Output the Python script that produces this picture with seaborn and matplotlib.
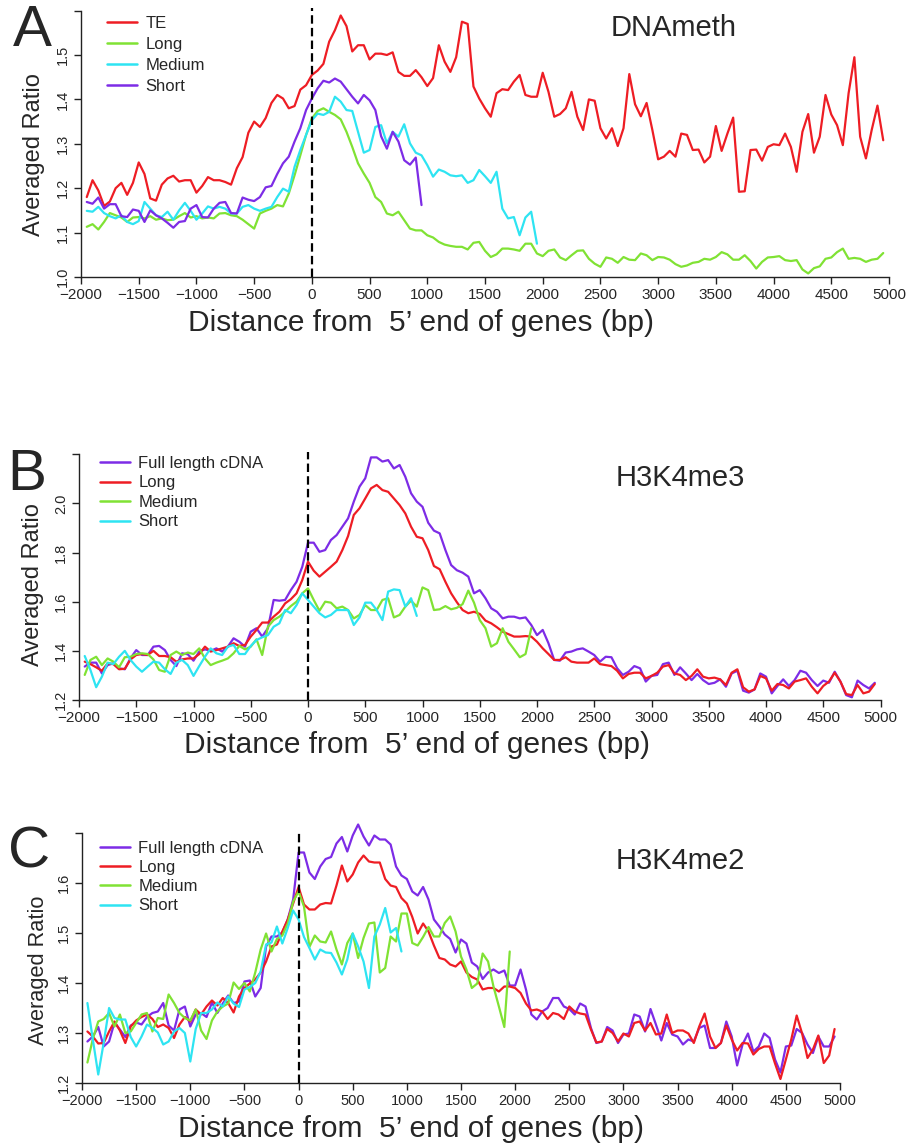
import numpy as np
import pandas as pd
import seaborn as sns
import matplotlib
matplotlib.use('Agg')
from matplotlib import pyplot as plt
from matplotlib.lines import Line2D

# positions (bp) of the averaged windows
pos_full = list(range(-1950, 5000, 50))
pos_2k = list(range(-1950, 2000, 50))
pos_1k = list(range(-1950, 1000, 50))

# ---- panel A: DNAmeth ----
a_te = [1.18, 1.218, 1.195, 1.16, 1.17, 1.20, 1.212, 1.185, 1.212, 1.258,
        1.232, 1.177, 1.172, 1.208, 1.222, 1.228, 1.215, 1.218, 1.218, 1.19,
        1.205, 1.225, 1.218, 1.218, 1.214, 1.208, 1.245, 1.27, 1.325, 1.35,
        1.338, 1.358, 1.392, 1.41, 1.402, 1.38, 1.385, 1.422, 1.432, 1.455,
        1.465, 1.48, 1.53, 1.556, 1.589, 1.565, 1.508, 1.522, 1.522, 1.49,
        1.503, 1.503, 1.5, 1.506, 1.462, 1.453, 1.453, 1.466, 1.45, 1.43,
        1.448, 1.522, 1.485, 1.462, 1.495,
        1.575, 1.570, 1.429, 1.402, 1.380, 1.361, 1.414, 1.423, 1.421, 1.44,
        1.455, 1.41, 1.406, 1.406, 1.46, 1.417, 1.361, 1.367, 1.38, 1.417,
        1.361, 1.331, 1.40, 1.397, 1.335, 1.312, 1.335, 1.295, 1.335, 1.457,
        1.389, 1.362, 1.392, 1.331, 1.265, 1.271, 1.284, 1.271, 1.323, 1.32,
        1.286, 1.287, 1.258, 1.271, 1.34, 1.284, 1.323, 1.359, 1.192, 1.193,
        1.286, 1.287, 1.262, 1.293, 1.299, 1.297, 1.323, 1.293, 1.237, 1.327,
        1.367, 1.28, 1.316, 1.41, 1.366, 1.342, 1.297, 1.414, 1.495, 1.316,
        1.267, 1.331, 1.386, 1.308]
a_long = [1.113, 1.119, 1.107, 1.124, 1.144, 1.139, 1.134, 1.124, 1.134, 1.135,
          1.132, 1.137, 1.129, 1.132, 1.128, 1.129, 1.137, 1.144, 1.134, 1.137,
          1.132, 1.134, 1.132, 1.143, 1.144, 1.139, 1.137, 1.129, 1.119, 1.109,
          1.143, 1.149, 1.154, 1.162, 1.159, 1.188, 1.229, 1.274, 1.32, 1.357,
          1.374, 1.38, 1.372, 1.365, 1.355, 1.327, 1.293, 1.256, 1.233, 1.212,
          1.18, 1.169, 1.143, 1.139, 1.147, 1.128, 1.109, 1.105, 1.105, 1.094,
          1.089, 1.079, 1.073, 1.07, 1.068,
          1.068, 1.062, 1.077, 1.079, 1.059, 1.045, 1.051, 1.064, 1.064, 1.062,
          1.059, 1.075, 1.075, 1.053, 1.047, 1.059, 1.062, 1.044, 1.038, 1.049,
          1.059, 1.06, 1.041, 1.03, 1.023, 1.044, 1.041, 1.032, 1.045, 1.039,
          1.038, 1.053, 1.049, 1.038, 1.045, 1.044, 1.039, 1.029, 1.023, 1.026,
          1.032, 1.034, 1.041, 1.039, 1.045, 1.056, 1.051, 1.039, 1.039, 1.049,
          1.036, 1.019, 1.034, 1.044, 1.045, 1.047, 1.038, 1.036, 1.038, 1.017,
          1.008, 1.02, 1.024, 1.041, 1.044, 1.056, 1.064, 1.041, 1.043, 1.041,
          1.034, 1.039, 1.041, 1.054]
a_medium = [1.149, 1.147, 1.158, 1.144, 1.137, 1.132, 1.139, 1.124, 1.119, 1.126,
            1.169, 1.154, 1.139, 1.135, 1.147, 1.129, 1.15, 1.167, 1.149, 1.129,
            1.143, 1.159, 1.154, 1.158, 1.154, 1.143, 1.143, 1.158, 1.162, 1.154,
            1.149, 1.154, 1.158, 1.18, 1.199, 1.192, 1.248, 1.286, 1.32, 1.353,
            1.368, 1.365, 1.372, 1.406, 1.395, 1.376, 1.374, 1.327, 1.28, 1.286,
            1.338, 1.342, 1.301, 1.327, 1.316, 1.344, 1.301, 1.28, 1.274, 1.252,
            1.226, 1.242, 1.237, 1.229, 1.227,
            1.229, 1.212, 1.218, 1.241, 1.227, 1.212, 1.237, 1.154, 1.132, 1.135,
            1.094, 1.134, 1.147, 1.075]
a_short = [1.169, 1.165, 1.179, 1.154, 1.164, 1.164, 1.137, 1.135, 1.152, 1.149,
           1.124, 1.15, 1.139, 1.132, 1.122, 1.111, 1.124, 1.126, 1.154, 1.162,
           1.135, 1.134, 1.154, 1.167, 1.169, 1.144, 1.143, 1.179, 1.174, 1.171,
           1.18, 1.202, 1.205, 1.232, 1.256, 1.271, 1.305, 1.335, 1.376, 1.402,
           1.425, 1.442, 1.438, 1.447, 1.44, 1.423, 1.406, 1.391, 1.41, 1.398,
           1.376, 1.317, 1.289, 1.327, 1.305, 1.263, 1.253, 1.269, 1.162]

# ---- panel B: H3K4me3 ----
b_full = [1.336, 1.352, 1.352, 1.308, 1.342, 1.349, 1.329, 1.325, 1.37, 1.403,
          1.383, 1.383, 1.417, 1.42, 1.403, 1.363, 1.338, 1.39, 1.386, 1.36,
          1.397, 1.406, 1.40, 1.41, 1.397, 1.417, 1.451, 1.437, 1.417, 1.478,
          1.492, 1.458, 1.492, 1.607, 1.604, 1.607, 1.647, 1.681, 1.742, 1.84,
          1.84, 1.803, 1.81, 1.851, 1.871, 1.905, 1.939, 2.007, 2.068, 2.102,
          2.187, 2.187, 2.17, 2.176, 2.142, 2.156, 2.108, 2.041, 2.007, 1.986,
          1.921, 1.889, 1.878, 1.81, 1.749,
          1.728, 1.718, 1.702, 1.634, 1.647, 1.614, 1.573, 1.559, 1.532, 1.539,
          1.539, 1.532, 1.536, 1.505, 1.464, 1.485, 1.431, 1.363, 1.36, 1.393,
          1.397, 1.406, 1.41, 1.397, 1.383, 1.356, 1.376, 1.374, 1.329, 1.302,
          1.315, 1.338, 1.329, 1.275, 1.298, 1.302, 1.346, 1.352, 1.302, 1.333,
          1.308, 1.281, 1.306, 1.281, 1.265, 1.27, 1.284, 1.254, 1.308, 1.319,
          1.238, 1.23, 1.243, 1.308, 1.295, 1.227, 1.257, 1.284, 1.257, 1.281,
          1.319, 1.311, 1.281, 1.257, 1.279, 1.27, 1.315, 1.275, 1.22, 1.211,
          1.279, 1.261, 1.247, 1.27]
b_long = [1.356, 1.346, 1.333, 1.319, 1.349, 1.346, 1.325, 1.327, 1.365, 1.383,
          1.387, 1.383, 1.40, 1.379, 1.379, 1.374, 1.356, 1.365, 1.369, 1.369,
          1.387, 1.417, 1.397, 1.403, 1.41, 1.417, 1.431, 1.42, 1.424, 1.458,
          1.485, 1.515, 1.515, 1.539, 1.559, 1.593, 1.61, 1.634, 1.688, 1.763,
          1.726, 1.702, 1.722, 1.742, 1.763, 1.81, 1.867, 1.953, 1.98, 2.02,
          2.061, 2.075, 2.054, 2.047, 2.02, 1.993, 1.959, 1.905, 1.864, 1.858,
          1.81, 1.745, 1.732, 1.681, 1.634,
          1.598, 1.566, 1.553, 1.559, 1.55, 1.523, 1.512, 1.496, 1.478, 1.468,
          1.458, 1.458, 1.46, 1.458, 1.437, 1.41, 1.387, 1.363, 1.363, 1.374,
          1.356, 1.352, 1.352, 1.352, 1.369, 1.346, 1.342, 1.338, 1.319, 1.288,
          1.306, 1.311, 1.311, 1.288, 1.298, 1.311, 1.336, 1.342, 1.308, 1.302,
          1.281, 1.298, 1.325, 1.295, 1.288, 1.291, 1.284, 1.261, 1.311, 1.325,
          1.252, 1.234, 1.243, 1.298, 1.288, 1.238, 1.265, 1.261, 1.247, 1.275,
          1.281, 1.288, 1.254, 1.227, 1.257, 1.275, 1.311, 1.275, 1.224, 1.22,
          1.261, 1.227, 1.234, 1.265]
b_medium = [1.302, 1.363, 1.376, 1.342, 1.369, 1.356, 1.333, 1.374, 1.376, 1.387,
            1.39, 1.387, 1.365, 1.322, 1.315, 1.383, 1.397, 1.383, 1.393, 1.387,
            1.41, 1.369, 1.342, 1.352, 1.36, 1.369, 1.39, 1.42, 1.406, 1.417,
            1.447, 1.383, 1.498, 1.525, 1.539, 1.559, 1.582, 1.6, 1.634, 1.654,
            1.607, 1.563, 1.60, 1.596, 1.573, 1.58, 1.566, 1.532, 1.546, 1.586,
            1.566, 1.566, 1.607, 1.614, 1.536, 1.546, 1.58, 1.604, 1.58, 1.658,
            1.647, 1.566, 1.569, 1.582, 1.569,
            1.575, 1.59, 1.645, 1.596, 1.525, 1.492, 1.417, 1.431, 1.492, 1.437,
            1.406, 1.374, 1.387, 1.492]
b_short = [1.379, 1.322, 1.252, 1.295, 1.352, 1.346, 1.376, 1.40, 1.363, 1.336,
           1.315, 1.336, 1.356, 1.352, 1.325, 1.306, 1.352, 1.363, 1.342, 1.298,
           1.338, 1.376, 1.41, 1.39, 1.383, 1.417, 1.424, 1.387, 1.387, 1.42,
           1.444, 1.455, 1.464, 1.498, 1.512, 1.566, 1.553, 1.586, 1.634, 1.607,
           1.58, 1.553, 1.536, 1.546, 1.566, 1.566, 1.566, 1.505, 1.536, 1.596,
           1.596, 1.566, 1.525, 1.641, 1.65, 1.647, 1.58, 1.614, 1.542]

# ---- panel C: H3K4me2 ----
c_full = [1.283, 1.293, 1.312, 1.273, 1.283, 1.321, 1.307, 1.292, 1.315, 1.321,
          1.317, 1.332, 1.34, 1.343, 1.36, 1.315, 1.305, 1.347, 1.353, 1.313,
          1.337, 1.34, 1.332, 1.361, 1.34, 1.359, 1.375, 1.36, 1.363, 1.403,
          1.405, 1.373, 1.39, 1.473, 1.493, 1.493, 1.501, 1.527, 1.567, 1.661,
          1.661, 1.621, 1.608, 1.633, 1.648, 1.652, 1.679, 1.692, 1.663, 1.695,
          1.717, 1.693, 1.675, 1.695, 1.687, 1.687, 1.677, 1.633, 1.615, 1.608,
          1.583, 1.575, 1.592, 1.567, 1.527, 1.513,
          1.497, 1.488, 1.461, 1.487, 1.479, 1.441, 1.433, 1.408, 1.421,
          1.427, 1.42, 1.425, 1.395, 1.395, 1.427, 1.387, 1.337, 1.327, 1.343,
          1.35, 1.37, 1.37, 1.353, 1.348, 1.337, 1.359, 1.353, 1.31, 1.28,
          1.283, 1.312, 1.305, 1.28, 1.297, 1.299, 1.337, 1.333, 1.303, 1.348,
          1.317, 1.285, 1.32, 1.297, 1.293, 1.277, 1.287, 1.283, 1.31, 1.315,
          1.27, 1.27, 1.28, 1.323, 1.293, 1.235, 1.277, 1.299, 1.263, 1.273,
          1.299, 1.29, 1.247, 1.221, 1.273, 1.275, 1.308, 1.3, 1.277, 1.26,
          1.293, 1.273, 1.273, 1.293]
c_long = [1.303, 1.293, 1.279, 1.28, 1.303, 1.323, 1.305, 1.28, 1.313, 1.325,
          1.332, 1.337, 1.328, 1.312, 1.317, 1.31, 1.29, 1.317, 1.332, 1.323,
          1.347, 1.337, 1.353, 1.365, 1.355, 1.37, 1.36, 1.341, 1.373, 1.39,
          1.399, 1.407, 1.421, 1.443, 1.473, 1.477, 1.503, 1.527, 1.559, 1.592,
          1.557, 1.547, 1.547, 1.557, 1.56, 1.559, 1.595, 1.635, 1.603, 1.617,
          1.641, 1.655, 1.643, 1.641, 1.641, 1.608, 1.595, 1.592, 1.57, 1.559,
          1.532, 1.499, 1.519, 1.503, 1.475, 1.45,
          1.447, 1.437, 1.433, 1.443, 1.421, 1.412, 1.407, 1.387, 1.39,
          1.39, 1.383, 1.393, 1.393, 1.39, 1.38, 1.359, 1.345, 1.347, 1.343,
          1.328, 1.34, 1.337, 1.328, 1.353, 1.343, 1.339, 1.337, 1.307, 1.281,
          1.283, 1.308, 1.3, 1.283, 1.299, 1.293, 1.32, 1.323, 1.305, 1.32,
          1.297, 1.299, 1.337, 1.3, 1.305, 1.305, 1.299, 1.28, 1.313, 1.339,
          1.293, 1.27, 1.28, 1.315, 1.287, 1.265, 1.28, 1.279, 1.257, 1.268,
          1.273, 1.273, 1.239, 1.208, 1.247, 1.287, 1.335, 1.299, 1.25, 1.267,
          1.295, 1.24, 1.255, 1.308]
c_medium = [1.241, 1.288, 1.323, 1.328, 1.34, 1.313, 1.337, 1.3, 1.303, 1.32,
            1.337, 1.34, 1.303, 1.33, 1.328, 1.377, 1.36, 1.34, 1.33, 1.325,
            1.347, 1.305, 1.288, 1.325, 1.343, 1.353, 1.359, 1.401, 1.388, 1.4,
            1.383, 1.421, 1.467, 1.499, 1.463, 1.488, 1.495, 1.519, 1.563, 1.583,
            1.553, 1.472, 1.495, 1.483, 1.481, 1.503, 1.467, 1.437, 1.48, 1.499,
            1.45, 1.49, 1.519, 1.521, 1.421, 1.43, 1.493, 1.483, 1.539, 1.539,
            1.48, 1.475, 1.492, 1.512, 1.493, 1.493,
            1.52, 1.533, 1.503, 1.453, 1.427, 1.39, 1.399, 1.459, 1.443, 1.393,
            1.353, 1.312, 1.463]
c_short = [1.36, 1.287, 1.217, 1.28, 1.35, 1.33, 1.327, 1.327, 1.292, 1.273,
           1.293, 1.317, 1.31, 1.301, 1.277, 1.283, 1.303, 1.31, 1.3, 1.243,
           1.308, 1.34, 1.34, 1.347, 1.361, 1.353, 1.373, 1.359, 1.352, 1.387,
           1.392, 1.4, 1.423, 1.477, 1.481, 1.513, 1.479, 1.51, 1.545, 1.527,
           1.492, 1.47, 1.447, 1.467, 1.461, 1.46, 1.441, 1.417, 1.447, 1.499,
           1.473, 1.443, 1.39, 1.493, 1.517, 1.55, 1.501, 1.51, 1.463]

RED, GREEN, CYAN, PURPLE = '#ee1d24', '#80e234', '#2ee4f2', '#7d2ce6'

W, H = 909, 1146


def long_df(series):
    frames = []
    for name, pos, vals in series:
        frames.append(pd.DataFrame({'pos': pos, 'ratio': vals, 'group': name}))
    return pd.concat(frames, ignore_index=True)


def draw_panel(fig, box, df, order, palette, yticks, letter, letter_xy,
               title, title_xy, leg_xy, leg_space, ylab_xy, ylab_size, xlab_xy, xtick_size):
    left, right, bottom, top = box
    ax = fig.add_axes([left / W, 1 - bottom / H, (right - left) / W, (bottom - top) / H])
    sns.lineplot(data=df, x='pos', y='ratio', hue='group', hue_order=order,
                 palette=palette, estimator=None, linewidth=1.6, legend=False, ax=ax)
    for ln in ax.lines:
        ln.set_clip_on(False)
    ax.set_xlim(-2000, 5000)
    ax.set_ylim(yticks[0], yticks[-1])
    ax.plot([0, 0], [yticks[0], yticks[-1] + 0.01 * (yticks[-1] - yticks[0])],
            color='black', lw=1.6, ls=(0, (3.8, 1.9)), clip_on=False)
    ax.set_xticks(range(-2000, 5001, 500))
    ax.set_xticklabels([str(v).replace('-', '\u2212') for v in range(-2000, 5001, 500)],
                       fontsize=xtick_size)
    ax.set_yticks(yticks)
    ax.set_yticklabels([f'{v:.1f}' for v in yticks[:-1]] + [''], fontsize=10.5,
                       rotation=90, va='center')
    ax.tick_params(length=5, width=1, pad=3, color='#222222')
    for s in ['top', 'right']:
        ax.spines[s].set_visible(False)
    for s in ['left', 'bottom']:
        ax.spines[s].set_linewidth(1)
        ax.spines[s].set_color('#222222')
    ax.set_xlabel('')
    ax.set_ylabel('')
    ax.set_facecolor('white')

    handles = [Line2D([0], [0], color=palette[k], lw=1.8) for k in order]
    ax.legend(handles, order, loc='upper left',
              bbox_to_anchor=(leg_xy[0] / W, 1 - leg_xy[1] / H),
              bbox_transform=fig.transFigure, frameon=False, fontsize=12,
              handlelength=1.8, handletextpad=0.5, labelspacing=leg_space,
              borderpad=0, borderaxespad=0)

    fig.text(letter_xy[0] / W, 1 - letter_xy[1] / H, letter, fontsize=42,
             ha='center', va='center')
    fig.text(title_xy[0] / W, 1 - title_xy[1] / H, title, fontsize=21,
             ha='center', va='center')
    fig.text(ylab_xy[0] / W, 1 - ylab_xy[1] / H, 'Averaged Ratio', fontsize=ylab_size,
             rotation=90, ha='center', va='center')
    fig.text(xlab_xy[0] / W, 1 - xlab_xy[1] / H, 'Distance from  5\u2019 end of genes (bp)',
             fontsize=21.5, ha='center', va='center')
    return ax


sns.set_style('ticks')
plt.rcParams['font.family'] = ['Liberation Sans', 'DejaVu Sans']

fig = plt.figure(figsize=(W / 100, H / 100), dpi=100)

df_a = long_df([('TE', pos_full, a_te), ('Long', pos_full, a_long),
                ('Medium', pos_2k, a_medium), ('Short', pos_1k, a_short)])
draw_panel(fig, (81, 889, 277, 10.6), df_a, ['TE', 'Long', 'Medium', 'Short'],
           {'TE': RED, 'Long': GREEN, 'Medium': CYAN, 'Short': PURPLE},
           [1.0, 1.1, 1.2, 1.3, 1.4, 1.5, 1.6], 'A', (32, 31), 'DNAmeth', (674, 28),
           (107, 16), 0.36, (34, 155), 17, (421, 323), 11)

df_b = long_df([('Full length cDNA', pos_full, b_full), ('Long', pos_full, b_long),
                ('Medium', pos_2k, b_medium), ('Short', pos_1k, b_short)])
draw_panel(fig, (79, 880.5, 700, 454.2), df_b, ['Full length cDNA', 'Long', 'Medium', 'Short'],
           {'Full length cDNA': PURPLE, 'Long': RED, 'Medium': GREEN, 'Short': CYAN},
           [1.2, 1.4, 1.6, 1.8, 2.0, 2.2], 'B', (27, 475), 'H3K4me3', (680, 478),
           (100, 456), 0.27, (33, 585), 17, (417, 745), 11)

df_c = long_df([('Full length cDNA', pos_full, c_full), ('Long', pos_full, c_long),
                ('Medium', pos_2k, c_medium), ('Short', pos_1k, c_short)])
draw_panel(fig, (82, 840, 1083, 833), df_c, ['Full length cDNA', 'Long', 'Medium', 'Short'],
           {'Full length cDNA': PURPLE, 'Long': RED, 'Medium': GREEN, 'Short': CYAN},
           [1.2, 1.3, 1.4, 1.5, 1.6, 1.7], 'C', (29, 852), 'H3K4me2', (680, 861),
           (100, 841), 0.25, (39, 970), 15.7, (411, 1129), 10.5)

fig.savefig('out.png', dpi=100, facecolor='white')
